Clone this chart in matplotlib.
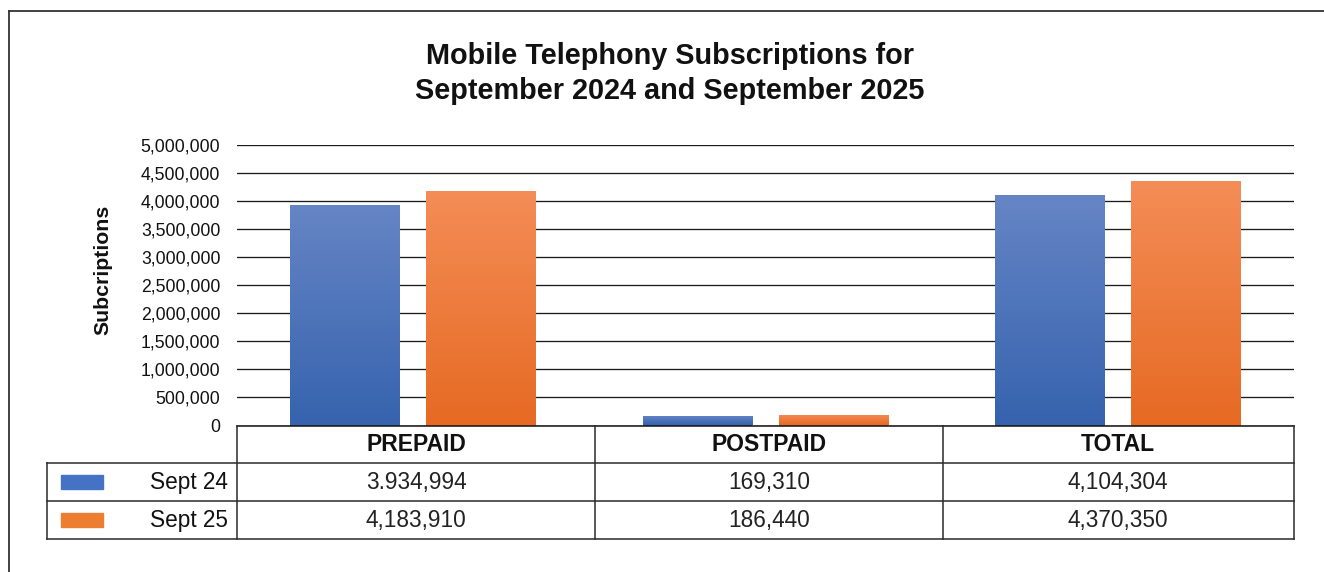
import numpy as np
import matplotlib
matplotlib.use("Agg")
import matplotlib.pyplot as plt
from matplotlib.lines import Line2D
from matplotlib.patches import Rectangle
from matplotlib.colors import LinearSegmentedColormap

plt.rcParams['font.family'] = ['Liberation Sans', 'DejaVu Sans']

# ---- data ----
categories = ["PREPAID", "POSTPAID", "TOTAL"]
series_names = ["Sept 24", "Sept 25"]
sept24 = [3934994, 169310, 4104304]
sept25 = [4183910, 186440, 4370350]
sept24_labels = ["3.934,994", "169,310", "4,104,304"]
sept25_labels = ["4,183,910", "186,440", "4,370,350"]
yticks = [0, 500000, 1000000, 1500000, 2000000, 2500000, 3000000,
          3500000, 4000000, 4500000, 5000000]
title_lines = ["Mobile Telephony Subscriptions for",
               "September 2024 and September 2025"]
ylabel = "Subcriptions"

# gradient end colours (top, bottom) and legend swatch colours
grad = [("#6685c5", "#3663ae"), ("#f48d57", "#e66a23")]
swatch = ["#4472c4", "#ed7d31"]

W, H = 1324, 572
fig = plt.figure(figsize=(W / 100, H / 100), dpi=100)
fig.patch.set_facecolor("white")

def fx(px):
    return px / W

def fy(py):
    return 1 - py / H

ax = fig.add_axes([fx(237), fy(425.5), fx(1294) - fx(237), fy(145.3) - fy(425.5)])
ax.set_xlim(-0.5, len(categories) - 0.5)
ax.set_ylim(0, 5000000)
for s in ax.spines.values():
    s.set_visible(False)
ax.set_xticks([])
ax.set_yticks(yticks)
ax.set_yticklabels([f"{v:,}" for v in yticks], fontsize=12.7, color="#111111")
ax.tick_params(axis="y", length=0, pad=12)
ax.yaxis.grid(True, color="#1a1a1a", linewidth=0.95)
ax.set_axisbelow(True)

x = np.arange(len(categories))
bw = 0.312
off = 0.193
for vals, sign, (ctop, cbot) in zip([sept24, sept25], [-1, 1], grad):
    bars = ax.bar(x + sign * off, vals, width=bw, color=cbot, zorder=2, linewidth=0)
    cmap = LinearSegmentedColormap.from_list("g", [cbot, ctop])
    g = np.linspace(0, 1, 256).reshape(-1, 1)
    for b in bars:
        x0, w, h = b.get_x(), b.get_width(), b.get_height()
        im = ax.imshow(g, cmap=cmap, origin="lower", aspect="auto",
                       extent=[x0, x0 + w, 0, h], zorder=3)
        im.set_clip_path(b)
ax.set_xlim(-0.5, len(categories) - 0.5)
ax.set_ylim(0, 5000000)

# ---- data table below the axis ----
tr = ax.transAxes
ax_h = 425.5 - 145.3
ax_w = 1294 - 237

def ay(py):
    return (425.5 - py) / ax_h

def ax_x(px):
    return (px - 237) / ax_w

row_y = [ay(425.5), ay(463), ay(501), ay(539)]
left = ax_x(47)
col_x = [ax_x(p) for p in (237, 595, 942.5, 1294)]
lc = "#2a2a2a"
lw = 1.1

def seg(xs, ys, color=lc):
    ax.add_line(Line2D(xs, ys, transform=tr, color=color, lw=lw,
                       clip_on=False, zorder=4))

seg([0, 1], [row_y[0], row_y[0]], "#111111")
for yy in row_y[1:]:
    seg([left, 1], [yy, yy])
for xx in col_x:
    seg([xx, xx], [row_y[0], row_y[3]])
seg([left, left], [row_y[1], row_y[3]])

for i, cat in enumerate(categories):
    cx = (col_x[i] + col_x[i + 1]) / 2
    ax.text(cx, (row_y[0] + row_y[1]) / 2, cat, transform=tr, ha="center",
            va="center", fontsize=16.5, fontweight="bold", color="#111111")
    for r, labels in enumerate([sept24_labels, sept25_labels]):
        ax.text(cx, (row_y[r + 1] + row_y[r + 2]) / 2, labels[i], transform=tr,
                ha="center", va="center", fontsize=16.3, color="#222222")

for r, name in enumerate(series_names):
    yc = (row_y[r + 1] + row_y[r + 2]) / 2
    sh = 14 / ax_h
    ax.add_patch(Rectangle((ax_x(61), yc - sh / 2), ax_x(103) - ax_x(61), sh,
                           transform=tr, color=swatch[r], clip_on=False, zorder=4))
    ax.text(ax_x(228), yc, name, transform=tr, ha="right", va="center",
            fontsize=16.3, color="#111111")

# ---- title, axis label, outer frame ----
fig.text(fx(670), fy(64.5), title_lines[0], ha="center", va="baseline",
         fontsize=20.8, fontweight="bold", color="#111111")
fig.text(fx(670), fy(99), title_lines[1], ha="center", va="baseline",
         fontsize=20.8, fontweight="bold", color="#111111")
fig.text(fx(103), fy(270), ylabel, rotation=90, ha="center", va="center",
         fontsize=15.3, fontweight="bold", color="#111111")

fig.add_artist(Line2D([fx(9), fx(9)], [fy(10.5), fy(600)], color="#333333",
                      lw=1.3, transform=fig.transFigure))
fig.add_artist(Line2D([fx(9), fx(1340)], [fy(10.5), fy(10.5)], color="#333333",
                      lw=1.3, transform=fig.transFigure))

fig.savefig("out.png", dpi=100)
